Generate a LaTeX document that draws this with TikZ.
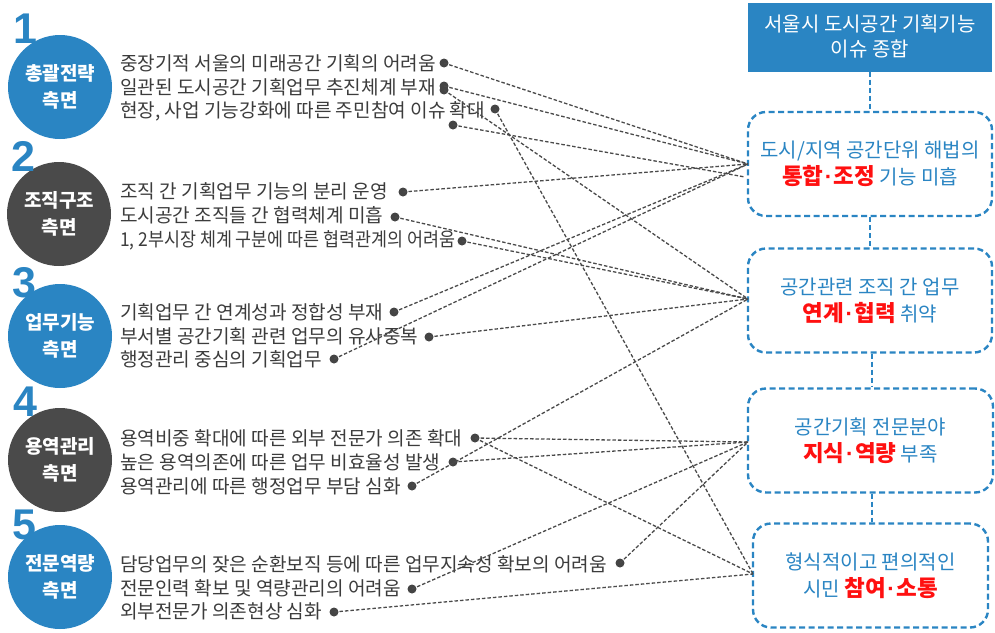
\documentclass[tikz,border=0pt]{standalone}
\usepackage{fontspec}
\setmainfont{Noto Sans CJK KR}
\newfontfamily\numfont{Liberation Sans}
\definecolor{cblue}{HTML}{2A85C3}
\definecolor{cgray}{HTML}{4A4A4A}
\definecolor{textgray}{HTML}{3C3C3C}
\definecolor{dotgray}{HTML}{444444}
\definecolor{linegray}{HTML}{4A4A4A}
\definecolor{hred}{HTML}{FF1010}
\newcommand{\hlt}[2]{{\color{hred}\bfseries\fontsize{22.5}{27}\selectfont #1\kern1.5pt{\numfont\bfseries\textperiodcentered}\kern1.5pt#2}}
\begin{document}
\begin{tikzpicture}[x=1pt,y=-1pt,
  circ/.style={circle, minimum size=104pt, inner sep=0pt, text=white, align=center,
    font=\fontsize{19}{27}\selectfont\bfseries},
  num/.style={text=cblue, inner sep=0pt, font=\numfont\bfseries\fontsize{43}{43}\selectfont},
  item/.style={anchor=west, inner sep=0pt, text=textgray, font=\fontsize{19.1}{22}\selectfont},
  dotn/.style={circle, fill=dotgray, minimum size=9pt, inner sep=0pt},
  conn/.style={draw=linegray, dash pattern=on 3.5pt off 2pt, line width=1.3pt},
  ibox/.style={draw=cblue, line width=2.4pt, dash pattern=on 6pt off 3.5pt, rounded corners=18pt,
    minimum width=244pt, minimum height=104pt, align=center, text=cblue, inner sep=0pt,
    font=\fontsize{20}{27}\selectfont},
  vlink/.style={draw=cblue, line width=2.4pt, dash pattern=on 5pt off 3pt}]
\useasboundingbox (0,0) rectangle (995,632);
\fill[white] (0,0) rectangle (995,632);

% circles
\node[circ, fill=cblue] (c1) at (60,87) {총괄전략\\측면};
\node[circ, fill=cgray] (c2) at (59,214) {조직구조\\측면};
\node[circ, fill=cblue] (c3) at (60,336) {업무기능\\측면};
\node[circ, fill=cgray] (c4) at (60,460) {용역관리\\측면};
\node[circ, fill=cblue] (c5) at (60,577) {전문역량\\측면};
\node[num] (n1) at (25,29) {1};
\node[num] (n2) at (23,156) {2};
\node[num] (n3) at (24,283) {3};
\node[num] (n4) at (25,402) {4};
\node[num] (n5) at (24,525) {5};

% items
\node[item] (t1a) at (120,63) {중장기적 서울의 미래공간 기획의 어려움};
\node[item] (t1b) at (120,87) {일관된 도시공간 기획업무 추진체계 부재};
\node[item] (t1c) at (120,111) {현장, 사업 기능강화에 따른 주민참여 이슈 확대};
\node[item] (t2a) at (120,191) {조직 간 기획업무 기능의 분리 운영};
\node[item] (t2b) at (120,215) {도시공간 조직들 간 협력체계 미흡};
\node[item] (t2c) at (120,240) {\scalebox{0.91}[1]{1, 2부시장 체계 구분에 따른 협력관계의 어려움}};
\node[item] (t3a) at (120,312) {기획업무 간 연계성과 정합성 부재};
\node[item] (t3b) at (120,336) {부서별 공간기획 관련 업무의 유사중복};
\node[item] (t3c) at (120,359) {행정관리 중심의 기획업무};
\node[item] (t4a) at (120,438) {용역비중 확대에 따른 외부 전문가 의존 확대};
\node[item] (t4b) at (120,462) {높은 용역의존에 따른 업무 비효율성 발생};
\node[item] (t4c) at (120,486) {용역관리에 따른 행정업무 부담 심화};
\node[item] (t5a) at (120,564) {담당업무의 잦은 순환보직 등에 따른 업무지속성 확보의 어려움};
\node[item] (t5b) at (120,588) {전문인력 확보 및 역량관리의 어려움};
\node[item] (t5c) at (120,611) {외부전문가 의존현상 심화};

% right boxes
\node[fill=cblue, minimum width=244pt, minimum height=69pt, inner sep=0pt, text=white, align=center,
  font=\fontsize{20}{25}\selectfont] (top) at (870,37) {서울시 도시공간 기획기능\\이슈 종합};
\node[ibox] (b1) at (870,164) {도시/지역 공간단위 해법의\\\hlt{통합}{조정} 기능 미흡};
\node[ibox] (b2) at (870,300.5) {공간관련 조직 간 업무\\\hlt{연계}{협력} 취약};
\node[ibox, minimum width=245pt] (b3) at (870.5,440.5) {공간기획 전문분야\\\hlt{지식}{역량} 부족};
\node[ibox, minimum width=235pt] (b4) at (870.5,575.5) {형식적이고 편의적인\\시민 \hlt{참여}{소통}};

\draw[vlink] (top.south) -- (b1.north);
\draw[vlink] (b1.south) -- (b2.north);
\draw[vlink] ([xshift=2pt]b2.south) -- ([xshift=1.5pt]b3.north);
\draw[vlink] ([xshift=1.5pt]b3.south) -- ([xshift=1.5pt]b4.north);

% convergence points
\coordinate (p1) at (748,164);
\coordinate (p1b) at (745,177);
\coordinate (p2) at (748,299);
\coordinate (p3) at (748,442);
\coordinate (p4) at (753,574);

% dots
\node[dotn] (d1a) at (444,63) {};
\node[dotn] (d1b) at (444,86) {};
\node[dotn] (d1bb) at (444,90) {};
\node[dotn] (d1c) at (495,109) {};
\node[dotn] (d1d) at (453,125) {};
\node[dotn] (d2a) at (403,192) {};
\node[dotn] (d2b) at (395,217) {};
\node[dotn] (d2c) at (462,241) {};
\node[dotn] (d3a) at (394,312) {};
\node[dotn] (d3b) at (429,337) {};
\node[dotn] (d3c) at (334,359) {};
\node[dotn] (d4a) at (475,438) {};
\node[dotn] (d4b) at (453,462) {};
\node[dotn] (d4c) at (412,486) {};
\node[dotn] (d5a) at (620,563) {};
\node[dotn] (d5b) at (412,589) {};
\node[dotn] (d5c) at (334,612) {};

% connectors
\draw[conn] (d1a.center) -- (p1);
\draw[conn] (d1b.center) -- (p1);
\draw[conn] (d1bb.center) -- (p2);
\draw[conn] (d1c.center) -- (p4);
\draw[conn] (d1d.center) -- (p1b);
\draw[conn] (d2a.center) -- (p1);
\draw[conn] (d2b.center) -- (p2);
\draw[conn] (d2c.center) -- (p2);
\draw[conn] (d3a.center) -- (p1);
\draw[conn] (d3b.center) -- (p2);
\draw[conn] (d3c.center) -- (p1);
\draw[conn] (d4a.center) -- (p3);
\draw[conn] (d4a.center) -- (p4);
\draw[conn] (d4b.center) -- (p3);
\draw[conn] (d4c.center) -- (p2);
\draw[conn] (d5a.center) -- (p3);
\draw[conn] (d5b.center) -- (p3);
\draw[conn] (d5c.center) -- (p4);
\end{tikzpicture}
\end{document}
